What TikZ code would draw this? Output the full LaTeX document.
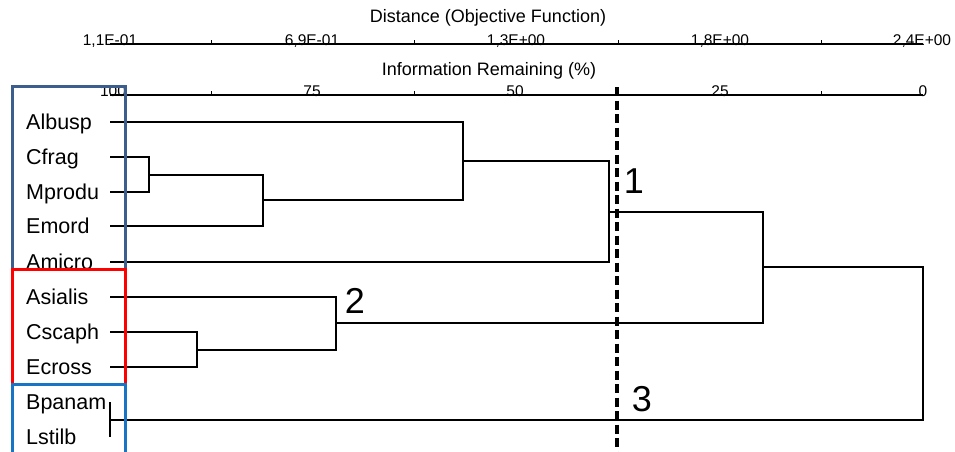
\documentclass[tikz,border=0pt]{standalone}
\usepackage{fontspec}
\setmainfont{Liberation Sans}
\definecolor{slatebox}{RGB}{60,94,140}
\definecolor{redbox}{RGB}{255,0,0}
\definecolor{bluebox}{RGB}{24,116,196}
\begin{document}
\begin{tikzpicture}[x=1pt,y=-1pt,
  dend/.style={line width=1.3pt,black},
  axisline/.style={line width=1.6pt,black},
  tickmark/.style={line width=0.8pt,black},
  ticklab/.style={font=\fontsize{15.5}{16}\selectfont,anchor=base,inner sep=0pt},
  axtitle/.style={font=\fontsize{18}{20}\selectfont,anchor=base,inner sep=0pt},
  leaflab/.style={font=\fontsize{21.5}{24}\selectfont,anchor=base west,inner sep=0pt},
  clusterlab/.style={font=\fontsize{36}{38}\selectfont,anchor=base,inner sep=0pt},
  groupbox/.style={line width=3pt},
  cutline/.style={line width=3.4pt,dash pattern=on 9pt off 4.5pt}]
\useasboundingbox (0,0) rectangle (955,452);
\begin{scope}
\clip (0,0) rectangle (955,452);
% axis titles
\node[axtitle] (disttitle) at (488,23) {Distance (Objective Function)};
\node[axtitle] (infotitle) at (489,75) {Information Remaining (\%)};
% top axis
\coordinate (ta0) at (110,44);
\coordinate (ta1) at (923,44);
\draw[axisline] (ta0) -- (ta1);
\foreach \x in {211,414,618,821} {\draw[tickmark] (\x,44) -- (\x,40);}
\node[ticklab] (t1) at (110,45.5) {1,1E-01};
\node[ticklab] (t2) at (312,45.5) {6,9E-01};
\node[ticklab] (t3) at (516,45.5) {1,3E+00};
\node[ticklab] (t4) at (720,45.5) {1,8E+00};
\node[ticklab] (t5) at (922,45.5) {2,4E+00};
% bottom axis
\coordinate (ba0) at (110,95);
\coordinate (ba1) at (923,95);
\draw[dend] (ba0) -- (ba1);
\foreach \x in {211,414,618,821} {\draw[tickmark] (\x,95) -- (\x,91);}
\node[ticklab] (b1) at (113,96) {100};
\node[ticklab] (b2) at (312,96) {75};
\node[ticklab] (b3) at (515,96) {50};
\node[ticklab] (b4) at (720,96) {25};
\node[ticklab] (b5) at (923,96) {0};
% leaves
\foreach \n/\y in {Albusp/122,Cfrag/157,Mprodu/192,Emord/226,Amicro/262,Asialis/297,Cscaph/332,Ecross/367,Bpanam/402,Lstilb/437} {
  \node[leaflab] (lab\n) at (26,\y+7.5) {\n};
  \coordinate (\n) at (110,\y);
}
% join points
\coordinate (j1) at (149,175);
\coordinate (j2) at (263,200);
\coordinate (j3) at (463,161);
\coordinate (j4) at (609,212);
\coordinate (j5) at (197,350);
\coordinate (j6) at (336,323);
\coordinate (j7) at (763,267);
\coordinate (j8) at (110,420);
\coordinate (j9) at (923,343);
\draw[dend] (Cfrag) -| (j1) |- (Mprodu);
\draw[dend] (j1) -| (j2) |- (Emord);
\draw[dend] (Albusp) -| (j3) |- (j2);
\draw[dend] (j3) -| (j4) |- (Amicro);
\draw[dend] (Cscaph) -| (j5) |- (Ecross);
\draw[dend] (Asialis) -| (j6) |- (j5);
\draw[dend] (j4) -| (j7) |- (j6);
\draw[dend] (Bpanam) -| (j8) |- (Lstilb);
\draw[dend] (j7) -| (j9) |- (j8);
% cut line
\coordinate (cuttop) at (617,87);
\coordinate (cutbot) at (617,460);
\draw[cutline] (cuttop) -- (cutbot);
% cluster labels
\node[clusterlab] (c1) at (634,193) {1};
\node[clusterlab] (c2) at (355,313) {2};
\node[clusterlab] (c3) at (642,411) {3};
% group boxes
\draw[groupbox,slatebox] (12,86) rectangle (125,269);
\draw[groupbox,redbox] (12,269) rectangle (125,384);
\draw[groupbox,bluebox] (12,384) rectangle (125,470);
\end{scope}
\end{tikzpicture}
\end{document}
